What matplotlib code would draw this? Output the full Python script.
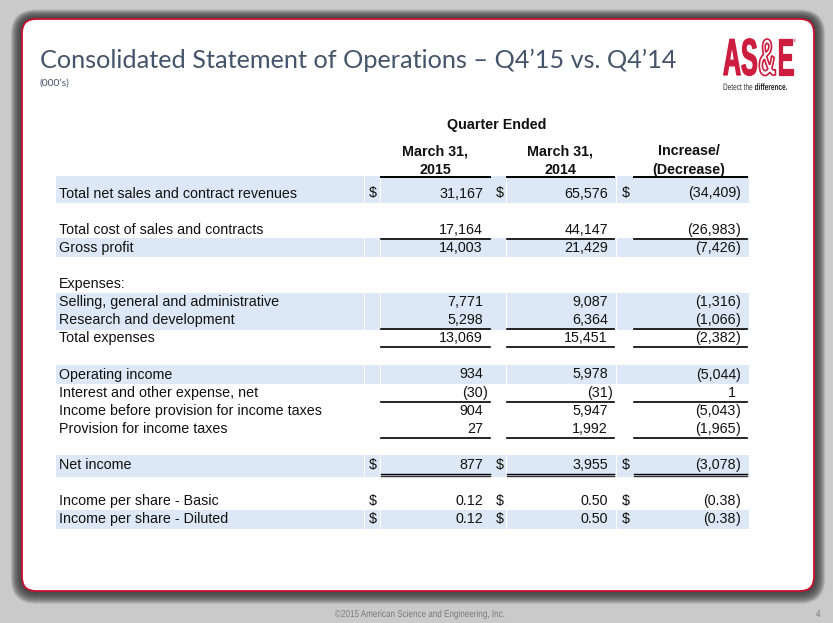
import matplotlib
matplotlib.use("Agg")
import matplotlib.pyplot as plt
from matplotlib.patches import FancyBboxPatch, Rectangle, PathPatch
from matplotlib.textpath import TextPath
from matplotlib.font_manager import FontProperties
from matplotlib.transforms import Affine2D

# --- table content (000's) ---
TITLE = "Consolidated Statement of Operations \u2013 Q4\u201915 vs. Q4\u201914"
SUBTITLE = "(000\u2019s)"
HEADER_TOP = "Quarter Ended"
COL_HEADERS = [("March 31,", "2015"), ("March 31,", "2014"), ("Increase/", "(Decrease)")]
FOOTER = "\u00a92015 American Science and Engineering, Inc."
PAGE_NO = "4"

row_labels = [
    "Total net sales and contract revenues",
    "Total cost of sales and contracts",
    "Gross profit",
    "Expenses:",
    "Selling, general and administrative",
    "Research and development",
    "Total expenses",
    "Operating income",
    "Interest and other expense, net",
    "Income before provision for income taxes",
    "Provision for income taxes",
    "Net income",
    "Income per share - Basic",
    "Income per share - Diluted",
]
q4_2015 = [31167, 17164, 14003, None, 7771, 5298, 13069, 934, -30, 904, 27, 877, 0.12, 0.12]
q4_2014 = [65576, 44147, 21429, None, 9087, 6364, 15451, 5978, -31, 5947, 1992, 3955, 0.50, 0.50]
change = [-34409, -26983, -7426, None, -1316, -1066, -2382, -5044, 1, -5043, -1965, -3078, -0.38, -0.38]
is_eps = [False] * 12 + [True, True]
dollar_rows = [0, 11, 12, 13]
shaded_rows = [0, 2, 4, 5, 7, 11, 13]
underline_rows = [1, 5, 6, 8, 10]
double_rows = [11]

# --- layout (pixels) ---
W, H = 833, 623
slots = [0, 2, 3, 5, 6, 7, 8, 10, 11, 12, 13, 15, 17, 18]
Y0, PITCH = 193, 18.1
LABEL_X = 59
COL_DIGIT_X = [483, 608, 736]
COL_SPAN = [(381, 490), (507, 614), (634, 747)]
DOLLAR_X = [373, 500, 626]
DOLLAR_CELL = [(365, 378), (492, 504), (617, 632)]
COL_CENTER = [435, 560, 689]

TXT = "#111111"
SHADE = "#dce8f5"
RED = "#cc1d3f"
TABLE_FONT = ["Liberation Sans", "DejaVu Sans"]
FS = 10.3

fig = plt.figure(figsize=(W / 100, H / 100), dpi=100)
fig.patch.set_facecolor("#cacaca")
ax = fig.add_axes([0, 0, 1, 1])
ax.set_xlim(0, W)
ax.set_ylim(H, 0)
ax.axis("off")

# --- slide card with shadow ---
cx0, cy0, cx1, cy1 = 22, 19, 814, 591
for i in range(11, 0, -1):
    ax.add_patch(FancyBboxPatch((cx0, cy0 + 0.15 * i), cx1 - cx0, cy1 - cy0,
                                boxstyle=f"round,pad={i},rounding_size={14 + i}",
                                fc="#333333", ec="none", alpha=0.16, zorder=1))
ax.add_patch(FancyBboxPatch((cx0, cy0), cx1 - cx0, cy1 - cy0,
                            boxstyle="round,pad=0,rounding_size=14",
                            fc="white", ec="#c8102e", lw=1.3, zorder=2))

renderer = fig.canvas.get_renderer()


def fit_text(x, y, s, width, **kw):
    t = ax.text(x, y, s, **kw)
    bb = t.get_window_extent(renderer)
    t.set_fontsize(t.get_fontsize() * width / bb.width)
    return t


def squeezed(x, y, s, size, sx, weight="normal", fc="black", ec="none", lw=0):
    # condensed text drawn as a path, x squeezed by sx; returns right edge
    tp = TextPath((0, 0), s, size=size,
                  prop=FontProperties(family="Liberation Sans", weight=weight))
    tr = Affine2D().scale(sx, -1).translate(x, y)
    ax.add_patch(PathPatch(tr.transform_path(tp), fc=fc, ec=ec, lw=lw, zorder=5))
    return x + tp.get_extents().x1 * sx


# title
fit_text(40, 68, TITLE, 637, fontsize=20, color="#44546a",
         family=["Lato", "DejaVu Sans"], va="baseline", zorder=5)
fit_text(40, 86, SUBTITLE, 30, fontsize=7, color="#44546a",
         family=["Lato", "DejaVu Sans"], va="baseline", zorder=5)

# logo
xe = squeezed(723, 75, "AS", 52, 0.48, weight="bold", fc=RED, ec=RED, lw=0.9)
xe = squeezed(xe + 1.5, 75, "&", 52, 0.48, weight="bold", fc="white", ec=RED, lw=1.2)
xe = squeezed(xe + 1.5, 75, "E", 52, 0.48, weight="bold", fc=RED, ec=RED, lw=0.9)
squeezed(xe + 0.5, 42, "\u00ae", 5, 0.8, fc=RED)
xd = squeezed(723, 90, "Detect the", 9.3, 0.7, fc="#333333")
squeezed(xd + 2.2, 90, "difference.", 9.3, 0.7, weight="bold", fc="#222222")

# --- headers ---
ax.text(497, 129, HEADER_TOP, fontsize=FS, fontweight="bold",
        color=TXT, family=TABLE_FONT, ha="center", va="baseline", zorder=5)
for (l1, l2), xc, (xa, xb) in zip(COL_HEADERS, COL_CENTER, COL_SPAN):
    ax.text(xc, 155, l1, fontsize=FS, fontweight="bold", color=TXT,
            family=TABLE_FONT, ha="center", va="baseline", zorder=5)
    ax.text(xc, 174, l2, fontsize=FS, fontweight="bold", color=TXT,
            family=TABLE_FONT, ha="center", va="baseline", zorder=5)
    ax.plot([xa, xb], [177, 177], color="black", lw=1.4, zorder=6)


def fmt(v, eps):
    if v is None:
        return None, ""
    s = f"{abs(v):,.2f}" if eps else f"{abs(v):,.0f}"
    if v < 0:
        return "(" + s, ")"
    return s, ""


# --- rows ---
for i, label in enumerate(row_labels):
    yc = Y0 + slots[i] * PITCH
    yb = yc + 4.5
    if i in shaded_rows:
        top = yc - (17 if i == 0 else 10 if i == 11 else 9)
        bot = yc + (12 if i == 11 else 10)
        cells = [(56, 362)] + DOLLAR_CELL + COL_SPAN
        for xa, xb in cells:
            ax.add_patch(Rectangle((xa, top), xb - xa + 2, bot - top, fc=SHADE, ec="none", zorder=3))
    ax.text(LABEL_X, yb, label, fontsize=FS, color=TXT, family=TABLE_FONT,
            va="baseline", zorder=5)
    for k, vals in enumerate([q4_2015, q4_2014, change]):
        body, tail = fmt(vals[i], is_eps[i])
        if body is None:
            continue
        ax.text(COL_DIGIT_X[k], yb, body, fontsize=FS, color=TXT, family=TABLE_FONT,
                ha="right", va="baseline", zorder=5)
        if tail:
            ax.text(COL_DIGIT_X[k], yb, tail, fontsize=FS, color=TXT, family=TABLE_FONT,
                    ha="left", va="baseline", zorder=5)
        if i in dollar_rows:
            ax.text(DOLLAR_X[k], yb, "$", fontsize=FS, color=TXT, family=TABLE_FONT,
                    ha="center", va="baseline", zorder=5)
    ly = yc + 9.5
    for xa, xb in COL_SPAN:
        if i in underline_rows:
            ax.plot([xa, xb], [ly, ly], color="black", lw=1.2, zorder=6)
        if i in double_rows:
            ax.plot([xa, xb], [ly - 0.2, ly - 0.2], color="black", lw=1.0, zorder=6)
            ax.plot([xa, xb], [ly + 1.8, ly + 1.8], color="#333333", lw=1.0, zorder=6)

# --- footer ---
squeezed(335, 617, FOOTER, 10, 0.81, fc="#7a7a7a")
squeezed(816, 617, PAGE_NO, 10, 0.8, fc="#7a7a7a")

fig.savefig("out.png", dpi=100, facecolor=fig.get_facecolor())
